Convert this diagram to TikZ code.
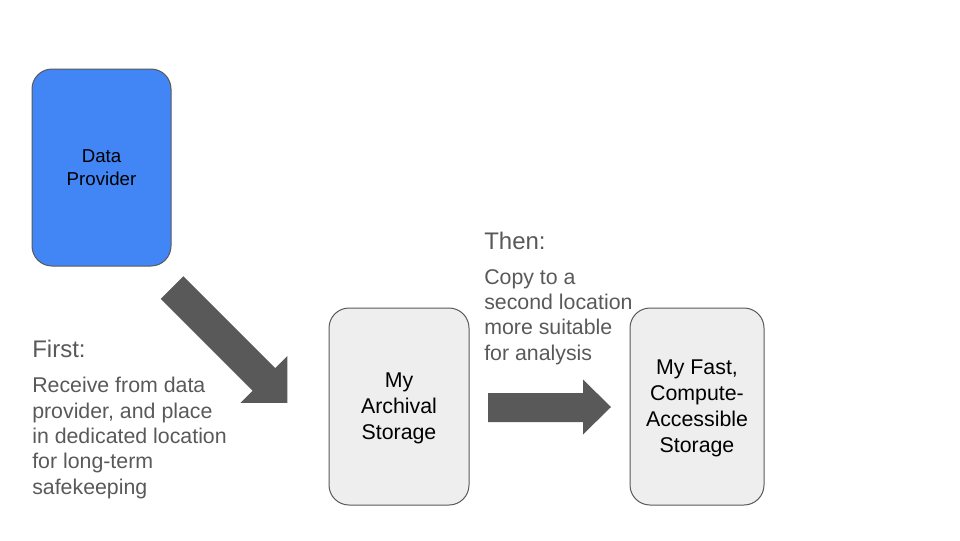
\documentclass[tikz,border=0pt]{standalone}
\usepackage{fontspec}
\setmainfont{Liberation Sans}
\usetikzlibrary{calc}
\definecolor{provblue}{HTML}{4285F4}
\definecolor{storegray}{HTML}{EEEEEE}
\definecolor{linegray}{HTML}{595959}
\definecolor{notegray}{HTML}{595959}

\begin{document}
\begin{tikzpicture}[x=0.75pt,y=-0.75pt,
  store/.style={draw=linegray,line width=0.75pt,rounded corners=15pt,minimum height=147.75pt,align=center,inner sep=0pt,text depth=0pt},
  note/.style={text=notegray,anchor=base west,inner sep=0pt,font=\fontsize{18}{21.6}\selectfont},
  notebody/.style={text=notegray,anchor=north west,align=left,inner sep=0pt,font=\fontsize{16}{19}\selectfont},
  blockarrow/.style={fill=notegray}]
\useasboundingbox (0,0) rectangle (960,540);
\node[store,fill=provblue,minimum width=104.25pt,font=\fontsize{14}{17}\selectfont] at (101.5,167.5) (prov) {Data\\Provider};
\node[store,fill=storegray,minimum width=105pt,font=\fontsize{16}{19.5}\selectfont] at (399,406.5) (arch) {My\\Archival\\Storage};
\node[store,fill=storegray,minimum width=100.5pt,font=\fontsize{16}{19.5}\selectfont] at (697,406.5) (fast) {My Fast,\\Compute-\\Accessible\\Storage};
\node[note] at (32,357) (first) {First:};
\node[notebody] at ($(first.base west)+(0,20)$) (firstbody) {Receive from data\\provider, and place\\in dedicated location\\for long-term\\safekeeping};
\node[note] at (484,249) (then) {Then:};
\node[notebody] at ($(then.base west)+(0,20)$) (thenbody) {Copy to a\\second location\\more suitable\\for analysis};
\begin{scope}[shift={(172,287.5)},rotate=-45]
\fill[blockarrow] (0,16) -- (130,16) -- (130,33) -- (163,0) -- (130,-33) -- (130,-16) -- (0,-16) -- cycle;
\end{scope}
\fill[blockarrow] (488,393) -- (583,393) -- (583,379.5) -- (611,407) -- (583,434.5) -- (583,422) -- (488,422) -- cycle;
\end{tikzpicture}
\end{document}
